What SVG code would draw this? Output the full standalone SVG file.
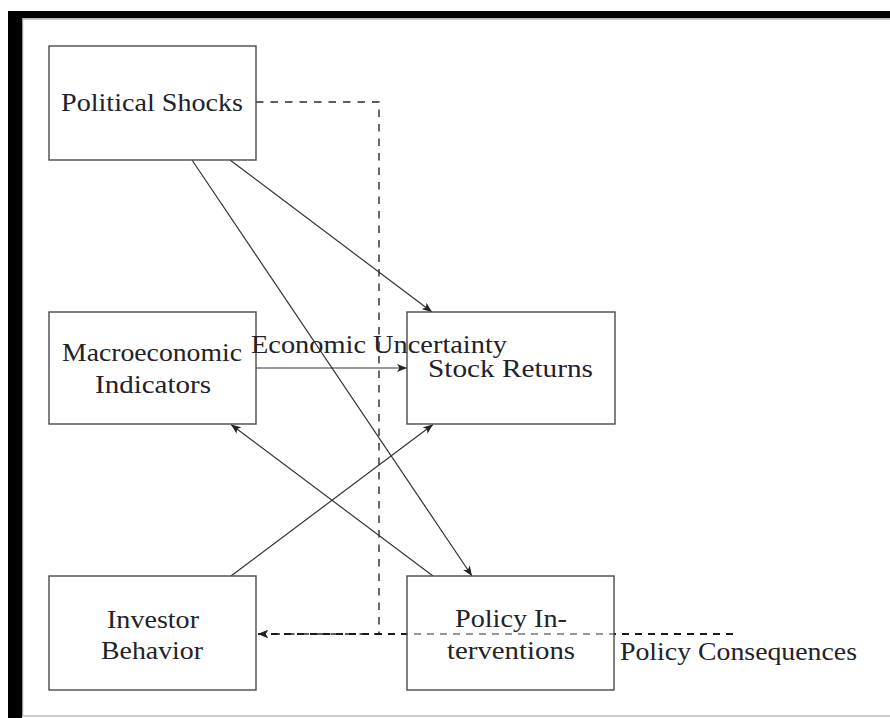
<svg xmlns="http://www.w3.org/2000/svg" width="890" height="718" viewBox="0 0 890 718">
  <style>
    .box { fill: #ffffff; fill-opacity: 0.55; stroke: #4a4a4a; stroke-width: 1.4; }
    .lbl { font-family: "Liberation Serif", "Times New Roman", serif; font-size: 25px; fill: #222228; }
    .edge { fill: none; stroke: #333333; stroke-width: 1.2; }
    .dash { fill: none; stroke: #2a2a2a; stroke-width: 1.4; stroke-dasharray: 7.5 7; }
    .dash2 { fill: none; stroke: #1a1a1a; stroke-width: 1.9; stroke-dasharray: 7 6; }
  </style>
  <defs>
    <marker id="arr" viewBox="0 0 10 8" markerWidth="10" markerHeight="8" refX="10" refY="4" orient="auto" markerUnits="userSpaceOnUse">
      <path d="M0,0 L10,4 L0,8 L2.5,4 z" fill="#222222"/>
    </marker>
  </defs>
  <rect x="0" y="0" width="890" height="718" fill="#ffffff"/>
  <g id="frame">
    <rect x="8" y="11" width="882" height="7" fill="#000000"/>
    <rect x="8" y="11" width="14" height="707" fill="#000000"/>
    <line x1="22" y1="18.8" x2="890" y2="18.8" stroke="#9a9a9a" stroke-width="1.2"/>
    <line x1="22.6" y1="18" x2="22.6" y2="716" stroke="#9a9a9a" stroke-width="1.2"/>
    <line x1="22" y1="716" x2="890" y2="716" stroke="#9a9a9a" stroke-width="1.2"/>
  </g>
  <g id="connectors">
    <path class="dash" d="M256,102 H379 V634 H258" marker-end="url(#arr)"/>
    <path class="dash2" d="M733,634 H258" marker-end="url(#arr)"/>
    <path class="edge" d="M256,368 H407" marker-end="url(#arr)"/>
    <path class="edge" d="M230,160 L432,312" marker-end="url(#arr)"/>
    <path class="edge" d="M192,160 L472,576" marker-end="url(#arr)"/>
    <path class="edge" d="M231,576 L433,424.5" marker-end="url(#arr)"/>
    <path class="edge" d="M433,576 L231,424.5" marker-end="url(#arr)"/>
  </g>
  <g id="political-shocks">
    <rect class="box" x="49" y="46" width="207" height="114"/>
    <text class="lbl" x="61" y="111" textLength="182" lengthAdjust="spacingAndGlyphs">Political Shocks</text>
  </g>
  <g id="macroeconomic-indicators">
    <rect class="box" x="49" y="312" width="207" height="112"/>
    <text class="lbl" x="62" y="361" textLength="180" lengthAdjust="spacingAndGlyphs">Macroeconomic</text>
    <text class="lbl" x="95" y="393" textLength="116" lengthAdjust="spacingAndGlyphs">Indicators</text>
  </g>
  <g id="stock-returns">
    <rect class="box" x="407" y="312" width="208" height="112"/>
    <text class="lbl" x="428" y="377" textLength="165" lengthAdjust="spacingAndGlyphs">Stock Returns</text>
  </g>
  <g id="investor-behavior">
    <rect class="box" x="49" y="576" width="207" height="114"/>
    <text class="lbl" x="107" y="628" textLength="92" lengthAdjust="spacingAndGlyphs">Investor</text>
    <text class="lbl" x="101" y="659" textLength="102" lengthAdjust="spacingAndGlyphs">Behavior</text>
  </g>
  <g id="policy-interventions">
    <rect class="box" x="407" y="576" width="207" height="114"/>
    <text class="lbl" x="455" y="627" textLength="112" lengthAdjust="spacingAndGlyphs">Policy In-</text>
    <text class="lbl" x="447" y="659" textLength="128" lengthAdjust="spacingAndGlyphs">terventions</text>
  </g>
  <g id="edge-labels">
    <text class="lbl" x="251" y="353" textLength="256" lengthAdjust="spacingAndGlyphs">Economic Uncertainty</text>
    <text class="lbl" x="620" y="660" textLength="237" lengthAdjust="spacingAndGlyphs">Policy Consequences</text>
  </g>
</svg>
